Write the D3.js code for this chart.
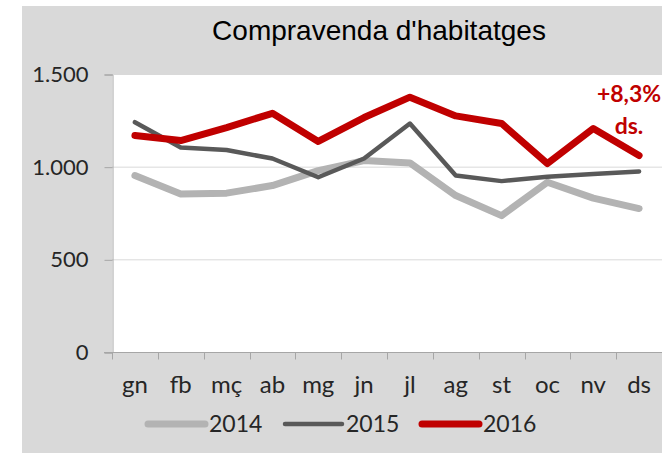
<!DOCTYPE html>
<html>
<head>
<meta charset="utf-8">
<script src="https://cdn.jsdelivr.net/npm/d3@7"></script>
<style>
  body { margin: 0; background: #fff; }
  svg { display: block; }
</style>
</head>
<body>
<svg id="chart" width="662" height="457"></svg>
<script>
/** Month labels (catalan abbreviations) */
var months = ['gn', 'fb', 'mç', 'ab', 'mg', 'jn', 'jl', 'ag', 'st', 'oc', 'nv', 'ds'];

/** Series values */
var values2014 = [952, 853, 857, 898, 979, 1033, 1020, 844, 736, 916, 830, 774];
var values2015 = [1240, 1103, 1090, 1044, 943, 1044, 1233, 952, 922, 945, 960, 974];
var values2016 = [1168, 1141, 1211, 1288, 1136, 1265, 1375, 1274, 1233, 1017, 1206, 1060];

var years = ['2014', '2015', '2016'];
var yTicks = [0, 500, 1000, 1500];

/** Sizes */
var width = 662,
    height = 457,
    plotLeft = 112,
    plotRight = 662,
    plotTop = 74,
    plotBottom = 352;

var seriesStyle = [
  {color: '#b3b3b3', width: 7},
  {color: '#595959', width: 4.5},
  {color: '#c00000', width: 7}
];

var svg = d3.select('#chart');

// gray panel + white plot area
svg.append('rect').attr('x', 22).attr('y', 6).attr('width', width - 22).attr('height', 447)
  .attr('fill', '#d9d9d9');
svg.append('rect').attr('x', plotLeft).attr('y', plotTop)
  .attr('width', plotRight - plotLeft).attr('height', plotBottom - plotTop)
  .attr('fill', '#fff');

var x = d3.scaleBand().domain(months).range([plotLeft, plotRight]);
var y = d3.scaleLinear().domain([0, 1500]).range([plotBottom, plotTop]);

// gridlines
svg.append('g').selectAll('line').data(yTicks.filter(function(d){ return d > 0; }))
  .enter().append('line')
  .attr('x1', plotLeft).attr('x2', plotRight)
  .attr('y1', function(d){ return y(d) + 0.5; }).attr('y2', function(d){ return y(d) + 0.5; })
  .attr('stroke', '#d9d9d9').attr('stroke-width', 1);

// y axis
var yAxis = d3.axisLeft(y).tickValues(yTicks).tickSize(8).tickPadding(16)
  .tickFormat(function(d){ return d3.format(',')(d).replace(/,/g, '.'); });
var gy = svg.append('g').attr('transform', 'translate(' + (plotLeft + 0.5) + ',0.5)').call(yAxis);
gy.select('.domain').attr('stroke', '#a6a6a6');
gy.selectAll('.tick line').attr('stroke', '#a6a6a6');
gy.selectAll('.tick text').attr('fill', '#262626')
  .style('font-family', 'Lato, sans-serif').style('font-size', '22px');

// x axis: ticks at band boundaries
var gx = svg.append('g').attr('transform', 'translate(0,' + (plotBottom + 0.5) + ')');
gx.append('line').attr('x1', plotLeft - 8).attr('x2', plotRight).attr('stroke', '#a6a6a6');
gx.selectAll('.bnd').data(months).enter().append('line').attr('class', 'bnd')
  .attr('x1', function(d){ return Math.round(x(d)) + 0.5; })
  .attr('x2', function(d){ return Math.round(x(d)) + 0.5; })
  .attr('y1', 0).attr('y2', 7).attr('stroke', '#a6a6a6');
gx.selectAll('text').data(months).enter().append('text')
  .attr('x', function(d){ return x(d) + x.bandwidth() / 2; })
  .attr('y', 40)
  .attr('text-anchor', 'middle')
  .attr('fill', '#262626')
  .style('font-family', 'Lato, sans-serif').style('font-size', '24px')
  .text(function(d){ return d; });

// lines
var line = d3.line()
  .x(function(d, i){ return x(months[i]) + x.bandwidth() / 2; })
  .y(function(d){ return y(d); });

[values2014, values2015, values2016].forEach(function(vals, i){
  svg.append('path').datum(vals)
    .attr('d', line)
    .attr('fill', 'none')
    .attr('stroke', seriesStyle[i].color)
    .attr('stroke-width', seriesStyle[i].width)
    .attr('stroke-linejoin', 'round')
    .attr('stroke-linecap', 'round');
});

// title
svg.append('text').attr('x', 379).attr('y', 40).attr('text-anchor', 'middle')
  .attr('fill', '#000')
  .style('font-family', 'Liberation Sans, Arial, sans-serif').style('font-size', '28px')
  .text("Compravenda d'habitatges");

// annotation
var note = svg.append('text').attr('text-anchor', 'middle').attr('fill', '#c00000')
  .style('font-family', 'Lato, sans-serif').style('font-size', '23px').style('font-weight', 'bold');
note.append('tspan').attr('x', 629).attr('y', 102).text('+8,3%');
note.append('tspan').attr('x', 629).attr('y', 134).text('ds.');

// legend
var legendX = [148, 285, 422];
var lg = svg.append('g').selectAll('g').data(years).enter().append('g')
  .attr('transform', function(d, i){ return 'translate(' + legendX[i] + ',424)'; });
lg.append('line').attr('x1', 0).attr('x2', 57)
  .attr('stroke', function(d, i){ return seriesStyle[i].color; })
  .attr('stroke-width', function(d, i){ return seriesStyle[i].width; })
  .attr('stroke-linecap', 'round');
lg.append('text').attr('x', 61).attr('y', 8)
  .attr('fill', '#262626')
  .style('font-family', 'Lato, sans-serif').style('font-size', '23px')
  .text(function(d){ return d; });
</script>
</body>
</html>
